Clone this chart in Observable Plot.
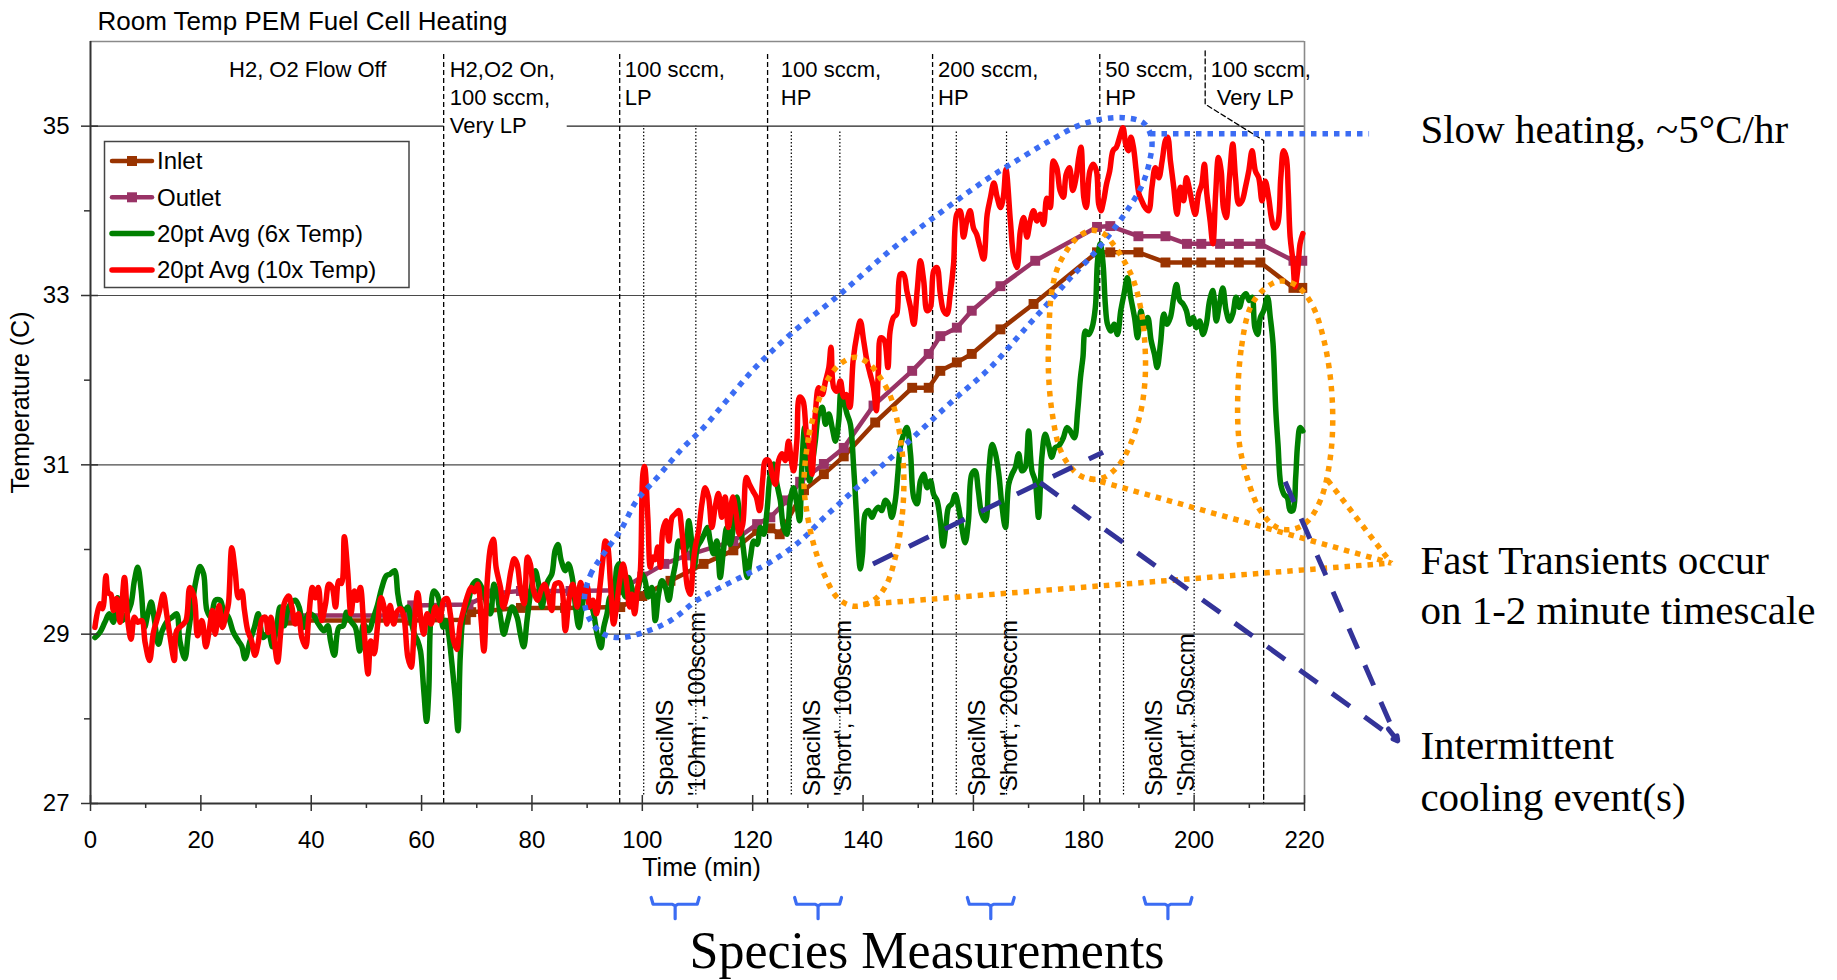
<!DOCTYPE html>
<html><head><meta charset="utf-8">
<script src="https://cdn.jsdelivr.net/npm/d3@7"></script>
<script src="https://cdn.jsdelivr.net/npm/@observablehq/plot@0.6"></script>
<style>
html,body{margin:0;padding:0;background:#fff;}
#chart{width:1837px;height:980px;overflow:hidden;}
</style></head><body><div id="chart"></div>
<script>
// ---------------- data ----------------
const chartTitle = "Room Temp PEM Fuel Cell Heating";
const xLabel = "Time (min)";
const yLabel = "Temperature (C)";
const xDomain = [0, 220];
const yDomain = [27, 36];
const xMajor = [0,20,40,60,80,100,120,140,160,180,200,220];
const xMinor = [10,30,50,70,90,110,130,150,170,190,210];
const yMajor = [27,29,31,33,35];
const yMinor = [28,30,32,34];
const gridLevels = [29,31,33];
const grid35Segments = [[0,64.0],[86.3,220]];

const seriesNames = ["Inlet","Outlet","20pt Avg (6x Temp)","20pt Avg (10x Temp)"];

const inletSeries = [[36,29.16],[58,29.16],[68,29.17],[69,29.26],[78,29.31],[86,29.31],[96,29.32],[100,29.45],[105.1,29.63],[111.1,29.83],[116.5,29.99],[120.8,30.22],[123.2,30.25],[124.9,30.18],[129.3,30.70],[132.9,30.89],[136.5,31.10],[142.2,31.50],[148.9,31.91],[151.9,31.91],[154.0,32.11],[157.0,32.21],[159.7,32.31],[164.9,32.60],[170.9,32.90],[182.4,33.51],[184.8,33.51],[189.9,33.51],[194.8,33.39],[198.7,33.39],[201.3,33.39],[204.7,33.39],[208.1,33.39],[212.0,33.39],[218.0,33.09],[219.6,33.09]];

const outletSeries = [[36,29.22],[57.8,29.22],[58.3,29.34],[68.5,29.35],[72.5,29.48],[78,29.51],[87,29.51],[96,29.52],[100,29.68],[104,29.83],[108.1,29.93],[116.5,30.10],[120.8,30.30],[123.2,30.38],[126.2,30.58],[128.6,30.80],[132.9,31.01],[136.5,31.20],[141.9,31.70],[148.9,32.11],[151.9,32.31],[154.0,32.52],[157.0,32.62],[159.7,32.82],[164.9,33.11],[171.2,33.41],[182.4,33.81],[184.8,33.82],[189.9,33.70],[194.8,33.70],[198.7,33.61],[201.3,33.61],[204.7,33.61],[208.1,33.61],[212.0,33.61],[218.0,33.41],[219.6,33.41]];

const avg6x = [[0.8,28.96],[1.7,29.02],[2.6,29.14],[3.4,29.24],[4.15,29.14],[4.9,29.43],[5.7,29.16],[6.6,29.24],[7.35,29.36],[7.95,29.63],[8.56,29.79],[9.2,29.51],[9.8,29.08],[10.4,29.24],[11.0,29.38],[11.6,29.16],[12.3,28.88],[13.0,29.04],[14.0,29.16],[14.8,29.2],[15.6,29.24],[16.2,28.92],[17.1,28.71],[17.7,29.0],[18.3,29.28],[19.1,29.63],[19.85,29.8],[20.5,29.71],[21.1,29.28],[21.85,29.2],[22.6,29.4],[23.5,29.4],[24.1,29.28],[25.0,29.2],[25.9,29.02],[26.8,28.92],[27.4,28.86],[28.0,28.71],[28.9,28.92],[29.7,29.08],[30.4,29.24],[31.3,28.96],[32.2,29.02],[33.0,28.85],[33.7,29.08],[34.35,29.32],[35.1,29.1],[35.9,29.32],[37.1,29.4],[37.8,29.32],[38.6,29.08],[39.5,29.24],[40.4,29.22],[41.3,29.12],[42.3,29.04],[43.0,29.1],[43.5,28.92],[44.2,28.75],[45.0,29.08],[45.8,29.1],[46.4,29.26],[47.1,29.16],[48.0,29.08],[48.8,28.8],[49.5,29.12],[50.4,29.04],[51.3,29.2],[52.0,29.34],[52.8,29.55],[53.6,29.69],[54.3,29.71],[55.1,29.75],[55.7,29.47],[56.2,29.32],[56.9,29.28],[57.5,29.32],[58.1,29.16],[58.7,29.0],[59.3,28.92],[59.8,28.8],[60.4,28.33],[60.9,27.97],[61.3,28.33],[61.6,29.12],[62.2,29.51],[62.8,29.47],[63.4,29.32],[63.9,29.08],[64.4,29.16],[64.9,29.0],[65.5,28.65],[66.1,28.25],[66.6,27.86],[67.0,28.73],[67.6,29.24],[68.5,29.4],[69.3,29.59],[70.0,29.63],[70.6,29.59],[71.4,29.47],[71.9,29.32],[72.5,29.24],[73.1,29.59],[73.7,29.47],[74.3,29.2],[74.9,29.0],[75.6,29.16],[76.4,29.32],[77.3,29.2],[77.9,29.0],[78.5,28.85],[79.1,29.16],[79.8,29.51],[80.6,29.75],[81.2,29.59],[81.8,29.32],[82.3,29.47],[82.9,29.63],[83.6,29.71],[84.2,29.99],[84.7,30.06],[85.3,29.87],[86.05,29.75],[86.6,29.83],[87.3,29.67],[87.9,29.32],[88.5,29.08],[89.1,29.32],[89.7,29.55],[90.3,29.40],[91.05,29.28],[91.8,29.0],[92.5,28.84],[93.0,29.08],[93.6,29.24],[94.2,29.44],[94.8,29.4],[95.4,29.79],[95.9,29.83],[96.4,29.55],[96.95,29.44],[97.5,29.67],[98.1,29.55],[98.7,29.40],[99.3,29.55],[99.9,29.71],[100.5,29.63],[101.1,29.44],[101.75,29.55],[102.35,29.16],[102.95,29.47],[103.55,29.63],[104.2,29.55],[104.8,29.40],[105.4,29.63],[106.0,29.83],[106.6,30.10],[107.2,30.03],[107.8,29.99],[108.4,30.34],[108.8,30.18],[109.4,29.79],[110.0,30.03],[110.6,30.10],[111.2,30.18],[111.8,30.26],[112.3,30.10],[112.9,29.95],[113.5,30.10],[114.1,29.67],[114.7,29.99],[115.3,30.26],[115.9,30.06],[116.5,30.26],[117.15,30.62],[117.75,30.30],[118.35,29.99],[119.0,29.67],[119.6,29.91],[120.2,30.10],[120.8,30.06],[121.4,30.26],[122.0,30.18],[122.6,30.46],[123.2,30.89],[123.8,31.01],[124.4,30.77],[125.0,30.58],[125.6,30.26],[126.2,30.18],[126.8,30.58],[127.4,30.73],[128.0,30.54],[128.5,30.34],[128.9,30.97],[129.4,31.44],[129.8,31.09],[130.3,30.81],[130.8,31.01],[131.35,31.28],[131.95,31.6],[132.6,31.68],[133.2,31.48],[133.8,31.6],[134.4,31.44],[135.0,31.28],[135.6,31.52],[136.0,31.87],[136.5,31.76],[137.1,31.6],[137.7,31.48],[138.3,30.97],[138.8,30.42],[139.2,29.95],[139.5,29.77],[139.9,29.95],[140.4,30.42],[141.0,30.46],[141.6,30.38],[142.2,30.46],[142.8,30.50],[143.4,30.46],[144.0,30.58],[144.6,30.54],[145.2,30.38],[145.85,30.58],[146.3,30.89],[146.75,31.21],[147.35,31.36],[147.95,31.44],[148.6,31.13],[149.2,30.61],[149.8,30.54],[150.4,30.81],[151.0,30.89],[151.6,30.73],[152.2,30.81],[152.8,30.65],[153.4,30.58],[154.0,30.34],[154.5,30.04],[155.0,30.26],[155.5,30.50],[156.1,30.54],[156.7,30.65],[157.3,30.50],[157.9,30.26],[158.5,30.08],[159.1,30.34],[159.7,30.89],[160.3,30.93],[160.9,30.69],[161.5,30.42],[162.2,30.34],[162.8,30.93],[163.4,31.24],[164.0,31.13],[164.6,30.89],[165.2,30.50],[165.8,30.26],[166.4,30.77],[167.0,30.89],[167.6,30.97],[168.2,31.13],[168.8,30.93],[169.4,30.97],[170.0,31.40],[170.6,30.93],[171.2,30.81],[171.8,30.38],[172.4,31.09],[173.0,31.36],[173.6,31.24],[174.2,31.09],[174.8,31.2],[175.4,31.22],[176.3,31.32],[176.95,31.44],[177.55,31.40],[178.3,31.32],[178.9,31.64],[179.4,32.03],[179.85,32.27],[180.3,32.58],[180.9,32.54],[181.5,32.62],[182.1,32.86],[182.5,33.41],[183.0,33.61],[183.5,33.37],[183.9,32.90],[184.3,32.66],[184.9,32.58],[185.5,32.66],[186.1,32.54],[186.7,32.82],[187.3,33.02],[187.9,33.21],[188.5,32.98],[189.2,32.74],[189.75,32.50],[190.35,32.82],[190.95,32.62],[191.6,32.74],[192.2,32.47],[192.8,32.31],[193.3,32.15],[193.9,32.43],[194.5,32.78],[195.1,32.66],[195.7,32.74],[196.3,32.98],[196.8,33.13],[197.4,32.94],[198.0,32.90],[198.6,32.82],[199.2,32.66],[199.8,32.74],[200.4,32.62],[201.0,32.70],[201.6,32.54],[202.2,32.66],[202.8,32.94],[203.4,33.06],[204.0,32.70],[204.6,32.90],[205.2,33.09],[205.8,32.82],[206.4,32.70],[207.0,32.78],[207.6,32.98],[208.2,32.86],[208.8,32.98],[209.4,33.02],[210.0,32.94],[210.5,32.98],[211.0,32.62],[211.5,32.54],[212.0,32.74],[212.6,32.82],[213.3,32.98],[213.8,32.74],[214.3,32.43],[214.8,31.64],[215.2,31.24],[215.7,30.77],[216.3,30.65],[216.9,30.61],[217.4,30.46],[217.9,30.46],[218.4,30.85],[218.75,31.24],[219.2,31.44],[219.7,31.40]];

const avg10x = [[0.8,29.08],[1.7,29.36],[2.2,29.3],[2.8,29.69],[3.2,29.49],[3.7,29.47],[4.15,29.28],[4.75,29.42],[5.35,29.14],[6.15,29.67],[6.75,29.16],[7.35,28.94],[7.95,29.2],[8.6,29.14],[9.3,29.16],[9.9,28.9],[10.7,28.69],[11.4,29.02],[12.0,29.16],[12.5,29.28],[13.2,29.47],[13.8,29.24],[14.4,28.98],[15.2,28.69],[15.6,29.04],[16.5,29.1],[17.3,29.16],[18.0,29.55],[18.8,29.43],[19.4,28.98],[20.2,29.16],[20.9,28.85],[21.5,29.04],[22.1,29.28],[22.6,29.0],[23.3,29.34],[23.9,29.08],[24.6,29.24],[25.0,29.36],[25.6,30.02],[26.2,29.75],[26.8,29.43],[27.4,29.51],[27.9,29.28],[28.5,29.04],[29.2,28.92],[29.8,28.75],[30.4,28.9],[31.1,29.18],[31.7,29.2],[32.2,29.02],[32.7,29.2],[33.3,28.92],[33.9,28.67],[34.5,29.04],[35.1,29.36],[35.9,29.45],[36.5,29.32],[37.1,29.12],[37.7,29.24],[38.3,28.96],[39.0,28.85],[39.5,29.16],[40.2,29.55],[40.7,29.43],[41.3,29.55],[41.9,29.16],[42.6,29.36],[43.2,29.59],[43.8,29.55],[44.4,29.32],[45.0,29.63],[45.5,29.6],[46.0,30.15],[46.6,29.75],[47.2,29.24],[47.8,29.51],[48.3,29.4],[48.9,29.55],[49.5,29.12],[50.3,28.53],[50.8,28.92],[51.4,28.77],[52.05,29.12],[52.65,29.43],[53.2,29.32],[53.7,29.12],[54.3,29.34],[54.95,29.12],[55.5,29.26],[56.2,29.3],[56.8,29.2],[57.5,28.73],[58.1,28.61],[58.7,29.12],[59.3,29.49],[59.9,29.16],[60.4,29.0],[61.0,29.24],[61.7,29.12],[62.5,29.32],[63.3,29.16],[64.0,29.4],[64.6,29.42],[65.2,29.24],[65.8,28.92],[66.4,28.82],[67.0,29.12],[67.75,29.32],[68.4,29.47],[69.0,29.55],[69.6,29.5],[70.2,29.59],[70.8,29.16],[71.3,28.8],[71.9,29.63],[72.5,30.03],[73.0,30.12],[73.5,29.79],[74.3,29.55],[74.8,29.32],[75.5,29.47],[76.2,29.75],[76.8,29.89],[77.3,29.83],[77.9,29.55],[78.6,29.36],[79.2,29.91],[79.7,29.83],[80.3,29.51],[81.0,29.4],[81.6,29.51],[82.25,29.59],[83.0,29.43],[83.6,29.28],[84.2,29.59],[85.1,29.6],[86.05,29.04],[86.7,29.40],[87.4,29.59],[88.2,29.32],[88.8,29.61],[89.4,29.47],[90.0,29.57],[90.45,29.32],[91.05,29.4],[91.7,29.24],[92.3,29.55],[92.9,29.91],[93.3,30.1],[93.7,30.05],[94.2,29.63],[94.8,29.12],[95.3,29.32],[95.9,29.63],[96.5,29.83],[97.1,29.63],[97.7,29.32],[98.1,29.47],[98.6,29.24],[99.15,29.55],[99.6,29.71],[100.1,30.89],[100.4,30.98],[101.0,30.38],[101.45,29.79],[101.9,29.91],[102.3,29.88],[102.8,30.03],[103.3,29.79],[103.7,30.22],[104.3,30.34],[104.8,30.10],[105.4,30.38],[106.0,30.42],[106.6,30.46],[107.1,30.26],[107.6,29.91],[108.2,29.55],[108.7,29.47],[109.2,29.83],[109.6,30.03],[110.2,30.22],[110.8,30.54],[111.4,30.73],[112.0,30.62],[112.6,30.26],[113.2,30.50],[113.8,30.66],[114.4,30.38],[115.0,30.62],[115.6,30.26],[116.4,30.62],[117.0,30.42],[117.6,30.18],[118.2,30.30],[118.85,30.85],[119.4,30.77],[120.05,30.69],[120.65,30.62],[121.25,30.46],[121.85,30.85],[122.3,31.05],[122.9,31.05],[123.5,30.89],[124.1,30.77],[124.7,31.05],[125.3,31.13],[125.9,31.05],[126.5,31.28],[127.0,31.05],[127.4,30.93],[128.0,31.28],[128.5,31.80],[129.1,31.76],[129.7,31.40],[130.3,31.21],[130.75,30.89],[131.35,31.6],[131.95,31.91],[132.6,31.83],[133.2,31.99],[133.8,32.15],[134.2,32.39],[134.7,31.91],[135.3,31.87],[135.9,31.99],[136.5,31.80],[137.0,31.83],[137.6,31.68],[138.2,32.23],[138.9,32.54],[139.5,32.70],[140.1,32.47],[140.7,32.23],[141.3,32.07],[141.9,31.91],[142.4,31.64],[142.8,32.15],[143.2,32.50],[143.85,32.47],[144.5,32.15],[144.9,32.58],[145.5,32.74],[146.1,32.78],[146.75,33.25],[147.35,33.25],[147.95,33.05],[148.6,32.86],[149.2,32.66],[149.8,33.05],[150.4,33.41],[151.0,33.17],[151.6,32.82],[152.2,32.86],[152.8,33.29],[153.4,33.33],[154.0,33.02],[154.6,32.82],[155.2,32.78],[155.8,33.02],[156.4,33.37],[157.0,33.96],[157.6,34.0],[158.2,33.69],[158.8,33.88],[159.4,34.0],[160.0,33.80],[160.6,33.72],[161.2,33.57],[161.85,33.43],[162.5,33.96],[163.1,34.16],[163.7,34.33],[164.3,34.16],[164.9,34.04],[165.4,34.15],[165.9,34.49],[166.7,33.88],[167.3,33.45],[167.9,33.33],[168.5,33.76],[169.1,33.92],[169.7,33.69],[170.3,33.88],[170.9,34.0],[171.5,33.88],[172.1,33.96],[172.7,33.84],[173.3,34.15],[173.9,34.04],[174.5,34.59],[175.1,34.51],[175.7,34.24],[176.3,34.16],[176.8,34.43],[177.4,34.51],[178.0,34.24],[178.6,34.39],[179.1,34.63],[179.5,34.75],[180.0,34.16],[180.45,34.04],[181.1,34.47],[181.7,34.55],[182.3,34.47],[182.7,34.08],[183.1,34.0],[183.6,34.12],[184.1,34.31],[184.7,34.47],[185.3,34.71],[185.9,34.75],[186.5,34.87],[187.1,34.98],[187.6,34.79],[188.1,34.71],[188.55,34.87],[189.0,34.75],[189.5,34.47],[190.0,34.2],[190.5,34.12],[191.1,34.04],[191.75,34.0],[192.35,34.28],[192.95,34.51],[193.6,34.39],[194.2,34.59],[194.8,34.83],[195.2,34.87],[195.7,34.59],[196.3,34.28],[196.9,33.96],[197.5,34.28],[198.1,34.12],[198.6,34.39],[199.2,34.24],[199.8,34.04],[200.2,33.96],[200.8,34.2],[201.4,34.32],[201.85,34.55],[202.3,34.2],[202.9,33.88],[203.4,33.61],[203.9,34.2],[204.4,34.63],[204.9,34.47],[205.3,34.04],[205.8,33.92],[206.4,34.39],[207.0,34.79],[207.5,34.39],[208.1,34.08],[208.7,34.12],[209.3,34.28],[209.9,34.47],[210.5,34.71],[211.1,34.47],[211.7,34.39],[212.3,34.12],[212.9,34.35],[213.5,34.16],[214.0,33.92],[214.5,33.80],[215.1,33.84],[215.7,34.39],[216.2,34.71],[216.7,34.63],[217.05,34.24],[217.4,33.69],[217.9,33.41],[218.3,33.1],[218.75,33.29],[219.2,33.61],[219.7,33.73]];

// phase boundaries (dashed) and measurement windows (dotted)
const phaseBoundaries = [64.0, 95.9, 122.7, 152.6, 182.9];
const phaseBoundaryTop = 35.85;
const lastBoundary = [[202.0,35.89],[202.0,35.26],[212.6,34.83],[212.6,27]];
const measurementEdges = [[100.25,35.0],[109.7,35.0],[127.0,34.93],[135.8,34.93],[156.9,34.93],[166.0,34.93],[187.2,34.95],[200.0,34.94]];
const measurementSpans = [[101.6,110.3],[127.6,136.1],[158.9,167.4],[190.9,199.6]];

const phaseLabels = [
  {x: 25.1, text: "H2, O2 Flow Off"},
  {x: 65.1, text: "H2,O2 On,\n100 sccm,\nVery LP"},
  {x: 96.8, text: "100 sccm,\nLP"},
  {x: 125.1, text: "100 sccm,\nHP"},
  {x: 153.6, text: "200 sccm,\nHP"},
  {x: 183.9, text: "50 sccm,\nHP"},
  {x: 203.0, text: "100 sccm,\n Very LP"}
];
const spaciLabels = [
  {x: 106.6, text: "SpaciMS\n'1Ohm', 100sccm"},
  {x: 133.2, text: "SpaciMS\n'Short', 100sccm"},
  {x: 163.2, text: "SpaciMS\n'Short', 200sccm"},
  {x: 195.2, text: "SpaciMS\n'Short', 50sccm"}
];

// annotation shapes
const slowHeatingLoop = [[89.5,29.4],[90.6,29.7],[93,29.95],[96,30.22],[99,30.58],[102.7,30.85],[106.9,31.17],[111.1,31.44],[115.3,31.76],[120.5,32.15],[126.8,32.54],[135.9,33.02],[144.9,33.53],[152.8,33.92],[161.9,34.35],[168.5,34.62],[173.9,34.83],[178.8,35.0],[183,35.08],[187.2,35.1],[190.8,35.04],[192.3,34.85],[191.8,34.55],[190.4,34.28],[187.8,34.0],[184.8,33.73],[181.2,33.45],[177.6,33.21],[174.5,32.98],[169,32.58],[163.1,32.15],[157,31.8],[151.0,31.44],[145,31.08],[138.9,30.73],[133,30.38],[128.6,30.1],[123.2,29.85],[119,29.71],[114.1,29.55],[109.9,29.40],[105.1,29.16],[100.2,29.02],[96,28.96],[93,29.0],[90.6,29.16]];
const slowHeatingLeader = [[192.0,34.91],[231.7,34.91]];
const transientLoops = [
  [[129.3,30.8],[130.2,31.35],[131.4,31.65],[132.8,31.9],[134.3,32.08],[136,32.2],[138.5,32.27],[141,32.2],[143.1,32.03],[144.9,31.82],[146.1,31.55],[147.0,31.2],[147.4,30.85],[147.1,30.4],[146,29.95],[144.2,29.58],[141.9,29.4],[138.5,29.33],[135.5,29.42],[133.0,29.7],[131.1,30.05],[129.8,30.45]],
  [[173.6,32.1],[173.7,32.6],[174.1,33.0],[175.1,33.3],[176.8,33.52],[178.8,33.68],[181.3,33.77],[183.6,33.73],[185.4,33.6],[187.2,33.42],[189.0,33.18],[190.4,32.82],[191.1,32.4],[191.1,32.0],[190.3,31.62],[188.5,31.25],[186.4,31.0],[183.6,30.85],[180.5,30.84],[178.2,30.93],[175.8,31.17],[174.3,31.6]],
  [[207.9,31.8],[208.6,32.4],[210.2,32.86],[212.6,33.07],[215.5,33.17],[218.5,33.12],[221.3,32.9],[223.6,32.45],[225.0,31.8],[224.8,31.15],[223.0,30.6],[220.5,30.33],[218,30.24],[215,30.26],[212,30.46],[209.6,30.85],[208.2,31.25]]
];
const transientTip = [235.7, 29.84];
const transientStarts = [[140.0,29.35],[181.0,30.84],[224.2,30.82]];
const coolingLines = [[141.8,29.83,183.5,31.15],[172.1,30.79,236.9,27.74],[216.5,30.8,236.9,27.74]];
const coolingHead = [235.2,27.88,236.9,27.74];

const notes = [
  {x: 241, y: 34.96, text: "Slow heating, ~5°C/hr"},
  {x: 241, y: 29.87, text: "Fast Transients occur"},
  {x: 241, y: 29.27, text: "on 1-2 minute timescale"},
  {x: 241, y: 27.68, text: "Intermittent"},
  {x: 241, y: 27.07, text: "cooling event(s)"}
];
const bottomNote = {x: 151.6, y: 25.25, text: "Species Measurements"};

// ---------------- styles / layout ----------------
const SANS = "'Liberation Sans', Arial, Helvetica, sans-serif";
const SERIF = "'Liberation Serif', 'Times New Roman', serif";
const C = {inlet: "#993300", outlet: "#993366", green: "#008000", red: "#ff0000",
           blue: "#3b6cf3", orange: "#ff9900", navy: "#333399"};
const L = {width: 1837, height: 980, left: 90, right: 533, top: 41, bottom: 177};
const fw = L.width - L.left - L.right;
const fh = L.height - L.top - L.bottom;
const X = d => d[0], Y = d => d[1];

// brace geometry built from measurement spans
const braceTop = 25.89, braceBar = 25.81, braceTip = 25.64;
const braces = measurementSpans.flatMap(([a, b], i) => {
  const m = (a + b) / 2;
  return [[a, braceTop], [a + 0.35, braceBar], [m - 0.5, braceBar], [m, braceBar - 0.02], [m, braceTip],
          [m, braceBar - 0.02], [m + 0.5, braceBar], [b - 0.35, braceBar], [b, braceTop]].map(p => ({x: p[0], y: p[1], k: i}));
});
const loops = transientLoops.flatMap((loop, i) => loop.map(p => ({x: p[0], y: p[1], k: i})));
const callouts = transientStarts.map(s => ({x1: s[0], y1: s[1], x2: transientTip[0], y2: transientTip[1]}));
const cooling = coolingLines.map(c => ({x1: c[0], y1: c[1], x2: c[2], y2: c[3]}));

const chart = Plot.plot({
  width: L.width, height: L.height,
  marginLeft: L.left, marginRight: L.right, marginTop: L.top, marginBottom: L.bottom,
  x: {domain: xDomain}, y: {domain: yDomain},
  style: {fontFamily: SANS, fontSize: "24px", background: "#fff", color: "#000"},
  marks: [
    // grid & frame
    Plot.ruleY(gridLevels, {stroke: "#4a4a4a", strokeWidth: 1.2}),
    Plot.link(grid35Segments, {x1: X, x2: Y, y1: 35, y2: 35, stroke: "#222", strokeWidth: 1.2}),
    Plot.ruleY([yDomain[1]], {stroke: "#8a8a8a", strokeWidth: 1.6}),
    Plot.ruleX([xDomain[1]], {stroke: "#8a8a8a", strokeWidth: 1.6}),
    // phase boundaries
    Plot.ruleX(phaseBoundaries, {y1: yDomain[0], y2: phaseBoundaryTop, stroke: "#000", strokeWidth: 1.3, strokeDasharray: "5,3"}),
    Plot.line(lastBoundary, {x: X, y: Y, stroke: "#000", strokeWidth: 1.3, strokeDasharray: "5,3", curve: "linear"}),
    Plot.ruleX(measurementEdges, {x: X, y1: 27.1, y2: Y, stroke: "#000", strokeWidth: 1.2, strokeDasharray: "1.5,2"}),
    // series
    Plot.line(inletSeries, {x: X, y: Y, stroke: C.inlet, strokeWidth: 4.5}),
    Plot.dot(inletSeries, {x: X, y: Y, symbol: "square", fill: C.inlet, r: 5.6}),
    Plot.line(outletSeries, {x: X, y: Y, stroke: C.outlet, strokeWidth: 4.5}),
    Plot.dot(outletSeries, {x: X, y: Y, symbol: "square", fill: C.outlet, r: 5.6}),
    Plot.line(avg6x, {x: X, y: Y, stroke: C.green, strokeWidth: 5.5, curve: "catmull-rom"}),
    Plot.line(avg10x, {x: X, y: Y, stroke: C.red, strokeWidth: 5.5, curve: "catmull-rom"}),
    // annotations
    Plot.line(slowHeatingLoop, {x: X, y: Y, curve: "catmull-rom-closed", stroke: C.blue, strokeWidth: 5.5, strokeDasharray: "5.5,6", strokeLinecap: "butt"}),
    Plot.line(slowHeatingLeader, {x: X, y: Y, stroke: C.blue, strokeWidth: 5.5, strokeDasharray: "5.5,6", strokeLinecap: "butt"}),
    Plot.line(loops, {x: "x", y: "y", z: "k", curve: "catmull-rom-closed", stroke: C.orange, strokeWidth: 5.5, strokeDasharray: "5.5,6", strokeLinecap: "butt"}),
    Plot.link(callouts, {x1: "x1", y1: "y1", x2: "x2", y2: "y2", stroke: C.orange, strokeWidth: 5.5, strokeDasharray: "5.5,6", strokeLinecap: "butt"}),
    Plot.link(cooling, {x1: "x1", y1: "y1", x2: "x2", y2: "y2", stroke: C.navy, strokeWidth: 5, strokeDasharray: "22,18", strokeLinecap: "butt"}),
    Plot.arrow([coolingHead], {x1: d => d[0], y1: d => d[1], x2: d => d[2], y2: d => d[3], stroke: C.navy, strokeWidth: 5, headLength: 24}),
    Plot.line(braces, {x: "x", y: "y", z: "k", stroke: C.blue, strokeWidth: 3.2, curve: "linear"}),
    // axes
    Plot.ruleX([xDomain[0]], {stroke: "#333", strokeWidth: 2}),
    Plot.ruleY([yDomain[0]], {stroke: "#333", strokeWidth: 2}),
    Plot.tickX(xMajor, {x: d => d, insetTop: fh - 8, insetBottom: -8, stroke: "#333", strokeWidth: 1.5}),
    Plot.tickX(xMinor, {x: d => d, insetTop: fh, insetBottom: -5, stroke: "#333", strokeWidth: 1.5}),
    Plot.tickY(yMajor, {y: d => d, insetLeft: -9, insetRight: fw - 8, stroke: "#333", strokeWidth: 1.5}),
    Plot.tickY(yMinor, {y: d => d, insetLeft: -6, insetRight: fw, stroke: "#333", strokeWidth: 1.5}),
    Plot.axisX(xMajor, {tickSize: 0, tickPadding: 27, label: null, fontSize: 24, tickFormat: d => String(d)}),
    Plot.axisY(yMajor, {tickSize: 0, tickPadding: 21, label: null, fontSize: 24, tickFormat: d => String(d)}),
    // text
    Plot.text([chartTitle], {text: d => d, frameAnchor: "top-left", dx: 7, dy: -20, textAnchor: "start", lineAnchor: "middle", fontSize: 26}),
    Plot.text([yLabel], {text: d => d, frameAnchor: "left", rotate: -90, dx: -70, dy: -20, textAnchor: "middle", lineAnchor: "middle", fontSize: 25}),
    Plot.text([xLabel], {text: d => d, frameAnchor: "bottom", dx: 4, dy: 64, textAnchor: "middle", lineAnchor: "middle", fontSize: 25}),
    Plot.text(phaseLabels, {x: "x", y: 35.81, text: "text", textAnchor: "start", lineAnchor: "top", lineHeight: 1.27, fontSize: 22}),
    Plot.text(spaciLabels, {x: "x", y: 27.09, text: "text", rotate: -90, textAnchor: "start", lineAnchor: "middle", lineHeight: 1.32, fontSize: 24}),
    Plot.text(notes, {x: "x", y: "y", text: "text", textAnchor: "start", lineAnchor: "middle", fontFamily: SERIF, fontSize: 41}),
    Plot.text([bottomNote], {x: "x", y: "y", text: "text", textAnchor: "middle", lineAnchor: "middle", fontFamily: SERIF, fontSize: 52})
  ]
});
document.getElementById("chart").appendChild(chart);

// legend (drawn into the plot's svg)
const legendItems = [
  {label: seriesNames[0], color: C.inlet, marker: true},
  {label: seriesNames[1], color: C.outlet, marker: true},
  {label: seriesNames[2], color: C.green, marker: false},
  {label: seriesNames[3], color: C.red, marker: false}
];
const lg = d3.select(chart).append("g").attr("font-family", SANS).attr("font-size", 24).attr("text-anchor", "start");
lg.append("rect").attr("x", 104.5).attr("y", 141.5).attr("width", 304.5).attr("height", 146)
  .attr("fill", "#fff").attr("stroke", "#444").attr("stroke-width", 1.5);
legendItems.forEach((it, i) => {
  const cy = 161 + i * 36.3;
  lg.append("line").attr("x1", 112).attr("x2", 152).attr("y1", cy).attr("y2", cy)
    .attr("stroke", it.color).attr("stroke-width", it.marker ? 4.5 : 5.5).attr("stroke-linecap", "round");
  if (it.marker) lg.append("rect").attr("x", 127).attr("y", cy - 5).attr("width", 10).attr("height", 10).attr("fill", it.color);
  lg.append("text").attr("x", 157).attr("y", cy).attr("dy", "0.35em").attr("text-anchor", "start").attr("fill", "#000").text(it.label);
});
</script></body></html>
